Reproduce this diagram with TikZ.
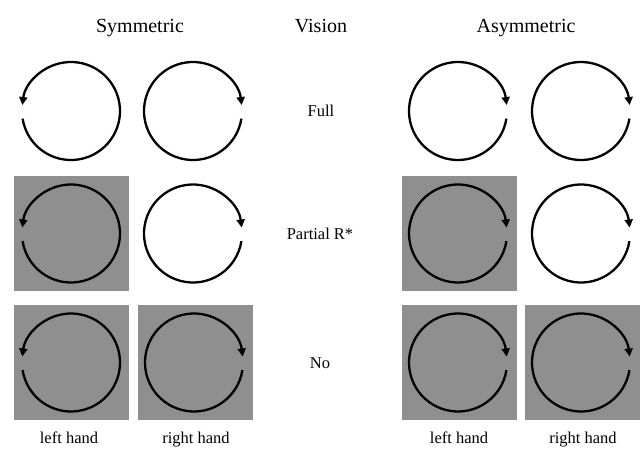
\documentclass[tikz,border=0pt]{standalone}
\usepackage{fontspec}
\setmainfont{Liberation Serif}
\usetikzlibrary{arrows.meta}
\definecolor{boxgray}{RGB}{143,143,143}
\begin{document}
\begin{tikzpicture}[x=1pt,y=-1pt,
  shadebox/.style={fill=boxgray,draw=none,minimum size=115pt,inner sep=0pt},
  loopline/.style={line width=2.3pt,-{Triangle[length=8pt,width=8pt]}},
  head/.style={font=\fontsize{20}{24}\selectfont,inner sep=0pt,anchor=base},
  lbl/.style={font=\fontsize{16.5}{19}\selectfont,inner sep=0pt,anchor=base},
  rloop/.pic={\draw[loopline] (9:49) arc[start angle=9,end angle=353,radius=49];},
  lloop/.pic={\draw[loopline] (171:49) arc[start angle=171,end angle=-173,radius=49];}
]
\useasboundingbox (0,0) rectangle (642,453);
% headers
\node[head] (hsym) at (140,32) {Symmetric};
\node[head] (hvis) at (321,32) {Vision};
\node[head] (hasym) at (526,32) {Asymmetric};
% row labels
\node[lbl] (full) at (321,116.5) {Full};
\node[lbl] (part) at (320,239) {Partial R*};
\node[lbl] (no) at (320,368) {No};
% grey boxes
\node[shadebox] (b21) at (71,233.5) {};
\node[shadebox] (b23) at (459,233.5) {};
\node[shadebox] (b31) at (71,362.5) {};
\node[shadebox] (b32) at (195,362.5) {};
\node[shadebox] (b33) at (459,362.5) {};
\node[shadebox] (b34) at (582,362.5) {};
% loops
\pic (c11) at (71,111) {lloop};
\pic (c12) at (193,111) {rloop};
\pic (c13) at (458,111) {rloop};
\pic (c14) at (581,111) {rloop};
\pic (c21) at (71,233.5) {lloop};
\pic (c22) at (193,233.5) {rloop};
\pic (c23) at (458,233.5) {rloop};
\pic (c24) at (581,233.5) {rloop};
\pic (c31) at (71,362.5) {lloop};
\pic (c32) at (194,362.5) {rloop};
\pic (c33) at (458,362.5) {rloop};
\pic (c34) at (581,362.5) {rloop};
% bottom labels
\node[lbl] (lh1) at (69,443) {left hand};
\node[lbl] (rh1) at (196,443) {right hand};
\node[lbl] (lh2) at (459,443) {left hand};
\node[lbl] (rh2) at (583,443) {right hand};
\end{tikzpicture}
\end{document}
